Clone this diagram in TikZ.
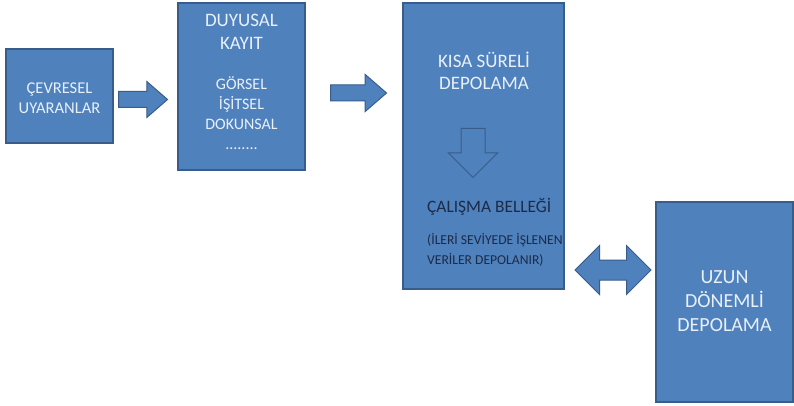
\documentclass[tikz,border=0pt]{standalone}
\usepackage{fontspec}
\setmainfont{Carlito}
\usetikzlibrary{shapes.arrows}

\definecolor{boxblue}{HTML}{4F81BD}
\definecolor{boxline}{HTML}{385D8A}
\definecolor{boxtext}{HTML}{E8F0FA}
\definecolor{darktext}{HTML}{1C2B48}

\tikzset{
  box/.style={draw=boxline, fill=boxblue, line width=1.2pt, inner sep=0pt},
  lbl/.style={text=boxtext, align=center, inner sep=0pt},
  blockarrow/.style={single arrow, draw=boxline, fill=boxblue, line width=1pt,
    inner xsep=0pt, single arrow head indent=0pt},
}

\begin{document}
\begin{tikzpicture}[x=1pt,y=-1pt]
    \useasboundingbox (0,0) rectangle (794,406);
    \fill[white] (0,0) rectangle (794,406);

    \node[box, minimum width=107pt, minimum height=94pt]  (env)   at (59.5,96)   {};
    \node[box, minimum width=127pt, minimum height=167pt] (sense) at (241.5,86.5) {};
    \node[box, minimum width=161pt, minimum height=286pt] (short) at (483.5,146)  {};
    \node[box, minimum width=137pt, minimum height=200pt] (long)  at (724.5,302)  {};

    \node[lbl, font=\fontsize{16.5}{20}\selectfont] (envtxt) at (59.5,98) {ÇEVRESEL\\UYARANLAR};
    \node[lbl, font=\fontsize{19}{23}\selectfont] (sensetitle) at (241.5,31.5) {DUYUSAL\\KAYIT};
    \node[lbl, font=\fontsize{16}{20}\selectfont] (senselist) at (241.5,113) {GÖRSEL\\İŞİTSEL\\DOKUNSAL\\........};
    \node[lbl, font=\fontsize{19}{22}\selectfont] (shorttitle) at (484,71) {KISA SÜRELİ\\DEPOLAMA};
    \node[lbl, text=darktext, anchor=west, font=\fontsize{17.4}{20}\selectfont] (work) at (427,207) {ÇALIŞMA BELLEĞİ};
    \node[lbl, text=darktext, anchor=west, align=left, font=\fontsize{13.6}{20}\selectfont] (worknote) at (427,250)
      {(İLERİ SEVİYEDE İŞLENEN\\VERİLER DEPOLANIR)};
    \node[lbl, font=\fontsize{20}{24}\selectfont] (longtxt) at (724.5,301) {UZUN\\DÖNEMLİ\\DEPOLAMA};

    % block arrows between the stages
    \node[blockarrow, minimum height=49pt, inner ysep=7.5pt, single arrow head extend=10pt,
      single arrow tip angle=82, anchor=tail] (ar1) at (118,99.5) {};
    \node[blockarrow, minimum height=56pt, inner ysep=7.5pt, single arrow head extend=10.5pt,
      single arrow tip angle=82, anchor=tail] (ar2) at (330,93) {};
    \node[blockarrow, minimum height=49pt, inner xsep=11.5pt, inner ysep=0pt, single arrow head extend=12.5pt,
      shape border rotate=270, anchor=tail] (down) at (473,128) {};
    \node[double arrow, draw=boxline, fill=boxblue, line width=1pt, inner xsep=0pt, inner ysep=9.5pt,
      double arrow head indent=0pt, minimum height=76pt,
      double arrow head extend=14.5pt] (ar3) at (613,270) {};
\end{tikzpicture}
\end{document}
